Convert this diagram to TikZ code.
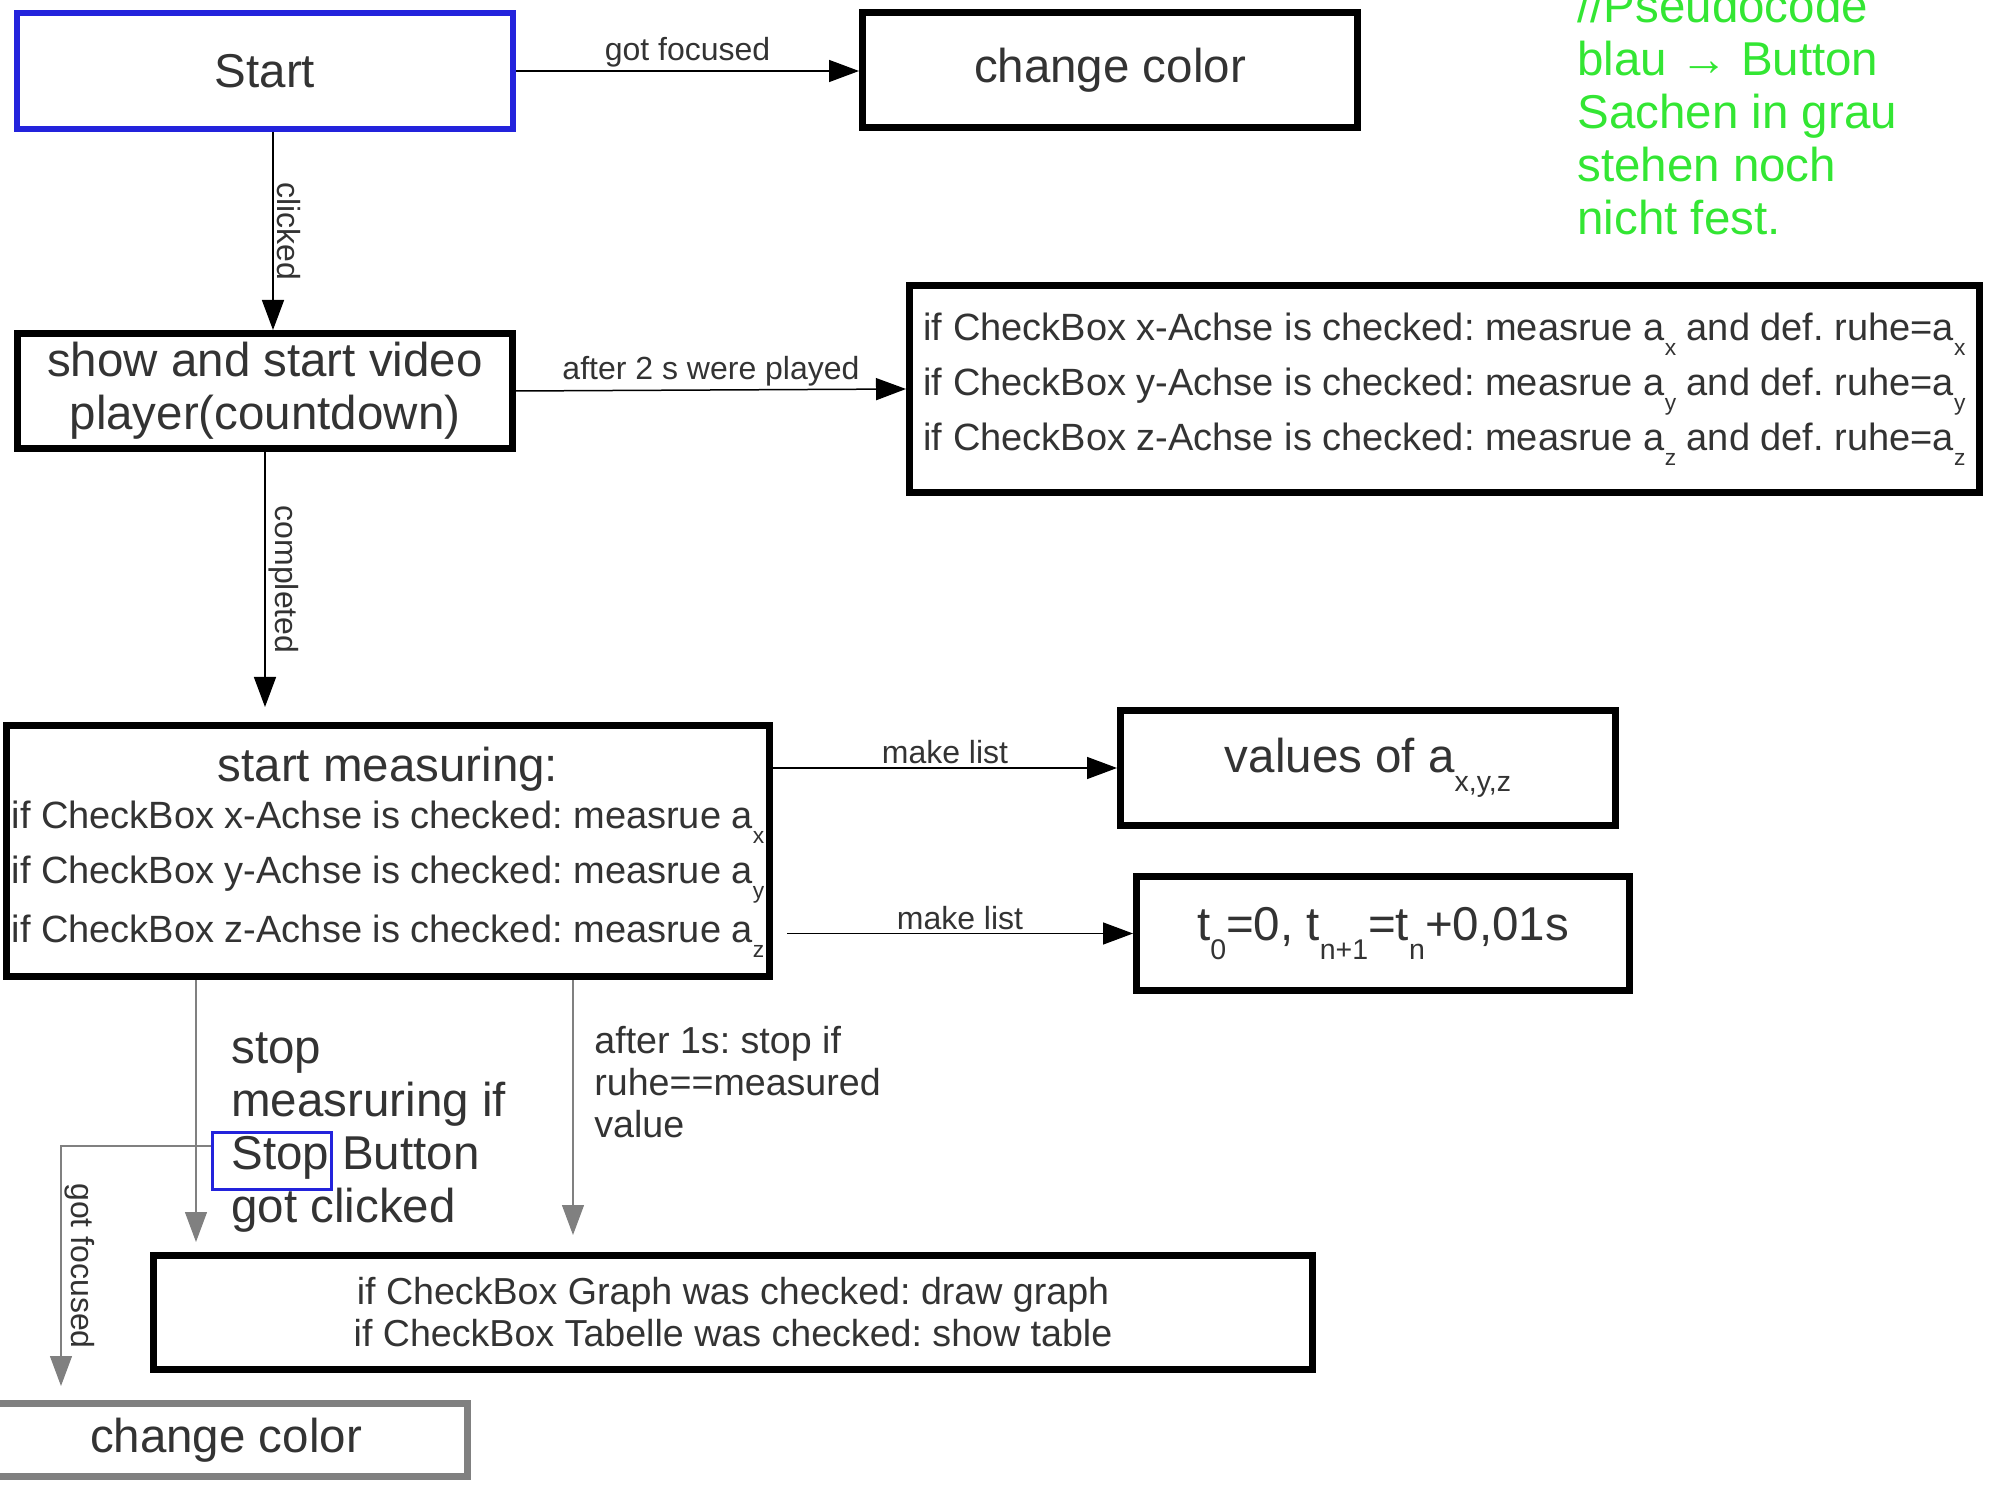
\documentclass[tikz,border=0pt]{standalone}
\usepackage{fontspec}
\setmainfont{Liberation Sans}
\usetikzlibrary{arrows.meta}
\frenchspacing

\definecolor{txtgray}{RGB}{51,51,51}
\definecolor{boxblue}{RGB}{35,35,220}
\definecolor{notegreen}{RGB}{51,230,51}
\definecolor{linegray}{RGB}{128,128,128}

\newcommand{\fsbig}{\fontsize{23.75}{26.5}\selectfont}
\newcommand{\fsmid}{\fontsize{19}{27.5}\selectfont}
\newcommand{\fssmall}{\fontsize{18.8}{21}\selectfont}
\newcommand{\fslabel}{\fontsize{16}{19}\selectfont}
\newcommand{\lowsub}[1]{\raisebox{-0.75ex}{\scalebox{0.6}{#1}}}

\begin{document}
\begin{tikzpicture}[x=0.5pt,y=-0.5pt,
  box/.style={draw,line width=3.5pt,text=txtgray,inner sep=0pt},
  lbl/.style={text=txtgray,font=\fslabel,inner sep=1.5pt},
  arr/.style={-{Triangle[length=15pt,width=11pt]},line width=0.75pt},
  garr/.style={-{Triangle[length=15pt,width=11pt]},line width=0.6pt,color=linegray}]
\useasboundingbox (0,0) rectangle (1993,1486);

\node[box,draw=boxblue,line width=3pt,minimum width=248pt,minimum height=58pt,font=\fsbig] (start) at (265,71) {Start};
\node[box,minimum width=247.5pt,minimum height=57.5pt,font=\fsbig] (chg1) at (1110,70) {change color};
\node[box,minimum width=247.5pt,minimum height=57.5pt,font=\fsbig,align=center] (show) at (265,391) {show and start video\\player(countdown)};
\node[box,minimum width=535pt,minimum height=103.5pt,font=\fsmid,align=left] (ruhe) at (1444.5,389)
  {if CheckBox x-Achse is checked: measrue a\lowsub{x} and def. ruhe=a\lowsub{x}\\
   if CheckBox y-Achse is checked: measrue a\lowsub{y} and def. ruhe=a\lowsub{y}\\
   if CheckBox z-Achse is checked: measrue a\lowsub{z} and def. ruhe=a\lowsub{z}};
\node[text=notegreen,font=\fsbig,align=left,anchor=west,inner sep=0pt] (note) at (1577,111.5)
  {//Pseudocode\\blau → Button\\Sachen in grau\\stehen noch\\nicht fest.};

\node[box,minimum width=381.5pt,minimum height=125.5pt,font=\fsmid] (measure) at (388,851)
  {\begin{tabular}{@{}l@{}}
   \multicolumn{1}{@{}c@{}}{\fsbig start measuring:}\\[-4pt]
   if CheckBox x-Achse is checked: measrue a\lowsub{x}\\
   if CheckBox y-Achse is checked: measrue a\lowsub{y}\\
   if CheckBox z-Achse is checked: measrue a\lowsub{z}
   \end{tabular}};
\node[box,minimum width=247.5pt,minimum height=57.5pt,font=\fsbig] (values) at (1368,768) {values of a\lowsub{x,y,z}};
\node[box,minimum width=246.5pt,minimum height=57pt,font=\fsbig] (tbox) at (1383,933.5) {t\lowsub{0}=0, t\lowsub{n+1}=t\lowsub{n}+0,01s};

\node[text=txtgray,font=\fsbig,align=left,anchor=west,inner sep=0pt] (stoptext) at (231,1133)
  {stop\\measruring if\\Stop Button\\got clicked};
\node[draw=boxblue,line width=1.5pt,minimum width=59.5pt,minimum height=28.5pt,inner sep=0pt] (stopbox) at (272,1161) {};
\node[text=txtgray,font=\fssmall,align=left,anchor=west,inner sep=0pt] (aftertext) at (594,1082)
  {after 1s: stop if\\ruhe==measured\\value};
\node[box,minimum width=579.5pt,minimum height=57pt,font=\fssmall,align=center] (result) at (733,1312.5)
  {if CheckBox Graph was checked: draw graph\\if CheckBox Tabelle was checked: show table};
\node[box,draw=linegray,minimum width=241.5pt,minimum height=36.5pt,font=\fsbig] (chg2) at (226,1440) {change color};

\coordinate (cmpEnd) at (265,707);
\coordinate (ml2) at (787,933.5);
\coordinate (stopEnd) at (196,1242);
\coordinate (ruheEnd) at (573,1235);
\coordinate (gfEnd) at (61,1386);

\draw[arr] (start.east) -- (start.east -| chg1.west) node[midway,above,lbl] {got focused};
\draw[arr] ([xshift=4pt]start.south) -- ([xshift=4pt]show.north) node[midway,rotate=-90,anchor=south,lbl] {clicked};
\draw[arr] (show.east) -- (ruhe.west) node[midway,above,lbl] {after 2 s were played};
\draw[arr] (show.south) -- (cmpEnd) node[midway,rotate=-90,anchor=south,lbl] {completed};
\draw[arr] (measure.east |- values.west) -- (values.west) node[midway,above,lbl] {make list};
\draw[arr] (ml2) -- (tbox.west) node[midway,above,lbl] {make list};

\draw[garr] (measure.south -| stopEnd) -- (stopEnd);
\draw[garr] (measure.south -| ruheEnd) -- (ruheEnd);
\draw[garr] ([yshift=7.5pt]stopbox.west) -| (gfEnd) node[pos=0.75,rotate=-90,anchor=south,lbl] {got focused};
\end{tikzpicture}
\end{document}
